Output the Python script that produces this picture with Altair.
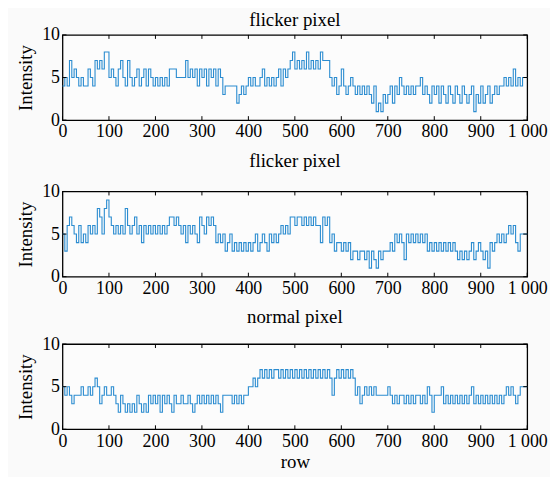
import altair as alt
import pandas as pd

STEP = 5  # rows per value

flicker_a = [
    4,5,4,7,5,6,5,4,5,4, 4,6,5,4,7,6,7,6,8,8,
    5,6,5,4,6,7,5,4,7,5, 4,5,6,4,5,6,4,6,5,4,
    5,4,5,4,5,4,6,6,6,5, 5,5,5,7,5,6,5,6,4,6,
    5,6,4,6,5,6,4,6,5,3, 4,4,4,4,4,2,3,4,3,4,
    5,4,5,4,4,5,6,4,5,4, 5,4,5,6,4,6,5,6,7,8,
    6,7,6,7,6,8,6,7,6,7, 6,8,7,7,7,5,4,5,3,4,
    6,4,3,4,5,4,3,4,3,4, 3,4,3,2,4,1,2,1,3,2,
    3,4,2,4,3,5,4,3,4,3, 4,3,4,4,5,3,4,3,2,4,
    3,4,2,4,3,2,4,3,2,4, 3,2,4,3,2,3,4,1,3,2,
    4,2,3,4,2,3,4,3,4,4, 5,4,5,4,6,4,5,4,5,5,
]

flicker_b = [
    5,3,6,7,6,5,4,6,4,5, 4,6,5,6,5,8,7,5,8,9,
    7,6,5,6,5,6,5,8,6,5, 6,7,5,6,4,6,5,6,5,6,
    5,6,5,6,5,6,7,7,6,7, 6,5,6,4,6,5,6,5,4,7,
    6,5,7,6,7,6,4,5,4,5, 3,4,5,3,4,3,4,3,4,3,
    4,3,4,5,3,4,5,4,3,5, 4,5,4,5,6,5,6,5,7,7,
    6,7,7,6,7,6,7,6,7,6, 6,4,7,6,7,4,5,3,4,4,
    3,4,3,4,2,3,3,2,3,3, 2,3,1,3,2,1,3,2,3,3,
    3,4,3,5,4,5,4,2,5,4, 5,4,5,4,5,4,5,3,4,3,
    4,3,4,3,4,3,4,3,4,3, 2,3,2,3,2,3,4,2,3,4,
    3,2,3,1,4,3,4,5,4,5, 4,5,6,5,6,4,3,5,5,5,
]

normal = [
    5,4,5,4,3,4,4,4,5,4, 4,5,4,5,6,5,3,4,5,4,
    4,5,4,3,2,4,3,2,3,2, 3,2,4,3,2,3,2,4,3,4,
    3,4,2,4,3,4,3,2,4,3, 3,4,3,3,4,3,2,3,4,3,
    4,3,4,3,4,3,4,3,2,4, 4,4,4,3,4,3,4,3,4,4,
    5,5,6,5,6,7,6,7,6,7, 6,7,7,6,7,6,7,6,7,6,
    7,6,7,6,7,6,7,6,7,6, 7,6,7,6,7,6,4,6,7,6,
    7,6,7,6,7,6,4,5,3,4, 5,4,5,4,5,4,4,4,4,4,
    5,4,3,4,3,4,4,3,4,3, 4,3,4,4,3,4,3,5,4,2,
    4,4,4,5,3,4,3,4,3,4, 3,4,3,4,3,4,5,3,4,3,
    4,3,4,3,4,3,4,3,4,3, 4,5,4,5,4,3,4,5,5,5,
]

titles = ["flicker pixel", "flicker pixel", "normal pixel"]
title_offsets = [-4, 12, 8]
x_ticks = list(range(0, 1001, 100))
y_ticks = [0, 5, 10]

W, H = 469, 86
LINE_COLOR = "#2b8cd0"
FONT = "Liberation Serif, Times New Roman, serif"
TICK = 4


def panel(values, title, offset, show_xtitle):
    rows = [i * STEP for i in range(len(values))] + [1000]
    vals = list(values) + [values[-1]]
    df = pd.DataFrame({"row": rows, "intensity": vals})
    xs = alt.Scale(domain=[0, 1000], nice=False, zero=False)
    ys = alt.Scale(domain=[0, 10], nice=False)
    xaxis = alt.Axis(
        values=x_ticks, tickSize=0, domain=False, grid=False, labelPadding=3,
        labelFlush=False, labelExpr="datum.value == 1000 ? '1 000' : datum.label",
        title="row" if show_xtitle else None, titlePadding=3,
    )
    yaxis = alt.Axis(
        values=y_ticks, tickSize=0, domain=False, grid=False, labelPadding=3,
        title="Intensity", titlePadding=6,
    )
    x_enc = alt.X("row:Q", scale=xs, axis=xaxis)
    y_enc = alt.Y("intensity:Q", scale=ys, axis=yaxis)

    line = alt.Chart(df).mark_line(
        interpolate="step-after", color=LINE_COLOR, strokeWidth=1.1
    ).encode(x=x_enc, y=y_enc)

    xt = pd.DataFrame({"row": x_ticks})
    yt = pd.DataFrame({"intensity": y_ticks})
    bottom = alt.Chart(xt).mark_rule(color="black", strokeWidth=1).encode(
        x=x_enc, y=alt.value(H), y2=alt.value(H - TICK))
    top = alt.Chart(xt).mark_rule(color="black", strokeWidth=1).encode(
        x=x_enc, y=alt.value(0), y2=alt.value(TICK))
    left = alt.Chart(yt).mark_rule(color="black", strokeWidth=1).encode(
        y=y_enc, x=alt.value(0), x2=alt.value(TICK))
    right = alt.Chart(yt).mark_rule(color="black", strokeWidth=1).encode(
        y=y_enc, x=alt.value(W - TICK), x2=alt.value(W))

    return alt.layer(line, bottom, top, left, right).properties(
        width=W, height=H,
        title=alt.TitleParams(title, fontSize=19, font=FONT, fontWeight="normal",
                              color="black", offset=offset, anchor="middle",
                              frame="group"),
    )


chart = alt.vconcat(
    panel(flicker_a, titles[0], title_offsets[0], False),
    panel(flicker_b, titles[1], title_offsets[1], False),
    panel(normal, titles[2], title_offsets[2], True),
    spacing=9,
).properties(
    background="#fafafa",
    padding={"left": 8, "top": 0, "right": 2, "bottom": 2},
).configure_view(
    stroke="black", strokeWidth=1.3, fill="#fcfcfc"
).configure_axis(
    labelFont=FONT, titleFont=FONT, labelFontSize=18, titleFontSize=19,
    labelColor="black", titleColor="black", titleFontWeight="normal",
)

chart.save("out.html", embed_options={"renderer": "svg", "actions": False})
